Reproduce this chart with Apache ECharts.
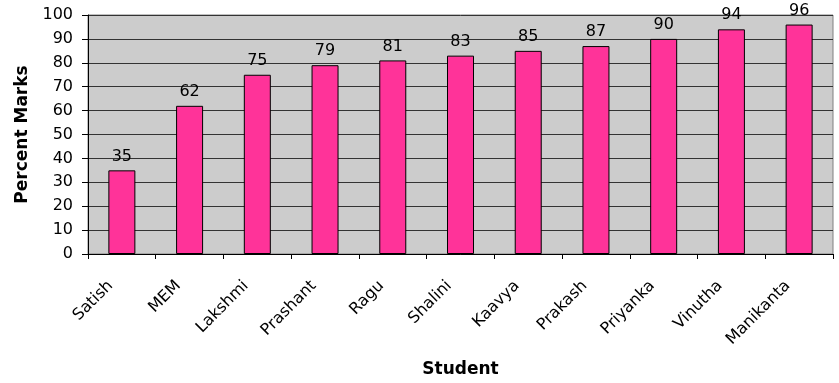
<!DOCTYPE html>
<html><head><meta charset="utf-8">
<script src="https://cdn.jsdelivr.net/npm/echarts@6/dist/echarts.min.js"></script>
<style>html,body{margin:0;padding:0;background:#fff}#c{width:839px;height:383px}</style>
</head><body><div id="c"></div>
<script>
const students = ['Satish','MEM','Lakshmi','Prashant','Ragu','Shalini','Kaavya','Prakash','Priyanka','Vinutha','Manikanta'];
const marks = [35,62,75,79,81,83,85,87,90,94,96];
const yTicks = {min:0, max:100, interval:10};
const xTitle = 'Student';
const yTitle = 'Percent Marks';

const font = 'DejaVu Sans, Verdana, sans-serif';
const chart = echarts.init(document.getElementById('c'), null, {renderer:'canvas'});
chart.setOption({
  animation:false,
  grid:{left:88, right:6, top:15, bottom:126, show:true, backgroundColor:'#CCCCCC', borderColor:'#808080', borderWidth:1},
  xAxis:{
    type:'category', data:students,
    name:xTitle, nameLocation:'middle', nameGap:107,
    nameTextStyle:{fontFamily:font, fontSize:17, fontWeight:'bold', color:'#000'},
    axisLine:{lineStyle:{color:'#000', width:1}},
    axisTick:{show:true, length:5, lineStyle:{color:'#000'}},
    axisLabel:{rotate:45, interval:0, margin:18, padding:[0,16,9,0], fontFamily:font, fontSize:16, color:'#000'}
  },
  yAxis:{
    type:'value', min:yTicks.min, max:yTicks.max, interval:yTicks.interval,
    name:yTitle, nameLocation:'middle', nameGap:54,
    nameTextStyle:{fontFamily:font, fontSize:17, fontWeight:'bold', color:'#000'},
    axisLine:{show:true, lineStyle:{color:'#000', width:1}},
    axisTick:{show:true, length:6, lineStyle:{color:'#000'}},
    axisLabel:{margin:15, fontFamily:font, fontSize:16, color:'#000'},
    splitLine:{show:true, lineStyle:{color:'#333', width:1}}
  },
  series:[{
    type:'bar', data:marks, barWidth:27,
    itemStyle:{color:'#FF3399', borderColor:'#000', borderWidth:1},
    label:{show:true, position:'top', distance:6, fontFamily:font, fontSize:16, color:'#000'}
  }]
});
</script></body></html>
